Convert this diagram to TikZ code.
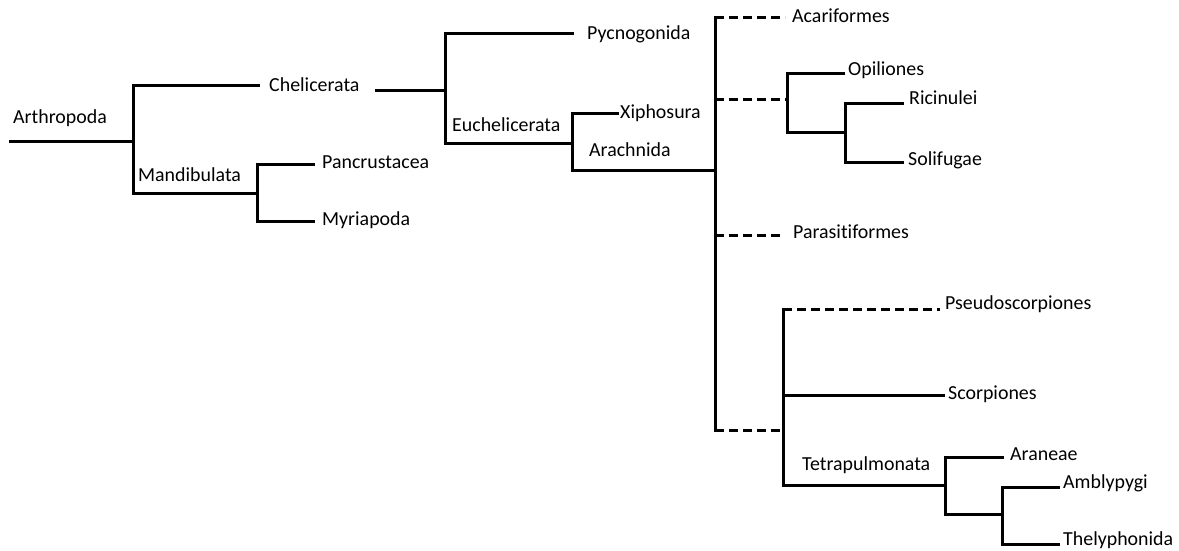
\documentclass[tikz,border=0pt]{standalone}
\usepackage{fontspec}
\setmainfont[Ligatures={NoCommon}]{Carlito}
\begin{document}
\begin{tikzpicture}[x=1pt,y=-1pt,
  br/.style={line width=3pt,line cap=rect},
  dbr/.style={line width=3pt,dash pattern=on 9pt off 5pt},
  lbl/.style={anchor=west,inner sep=0pt,font=\fontsize{19.9}{22}\selectfont,text height=13pt,text depth=4pt}]
\useasboundingbox (0,0) rectangle (1179,550);
% labels
\node[lbl] (arth) at (13,119) {Arthropoda};
\node[lbl] (chel) at (269,87) {Chelicerata};
\node[lbl] (mand) at (138,177) {Mandibulata};
\node[lbl] (panc) at (322,164) {Pancrustacea};
\node[lbl] (myri) at (322,221) {Myriapoda};
\node[lbl] (pycn) at (587,35) {Pycnogonida};
\node[lbl] (euch) at (452,127) {Euchelicerata};
\node[lbl] (xiph) at (620,114) {Xiphosura};
\node[lbl] (arac) at (589,152) {Arachnida};
\node[lbl] (acar) at (792,18) {Acariformes};
\node[lbl] (opil) at (848,71) {Opiliones};
\node[lbl] (rici) at (909,100) {Ricinulei};
\node[lbl] (soli) at (908,161) {Solifugae};
\node[lbl] (para) at (793,234) {Parasitiformes};
\node[lbl] (pseu) at (945,305) {Pseudoscorpiones};
\node[lbl] (scor) at (948,395) {Scorpiones};
\node[lbl] (tetr) at (802,466) {Tetrapulmonata};
\node[lbl] (aran) at (1010,456) {Araneae};
\node[lbl] (ambl) at (1063,484) {Amblypygi};
\node[lbl] (thel) at (1063,541) {Thelyphonida};
% junction coordinates
\coordinate (root) at (10,141);
\coordinate (jA) at (133,141);
\coordinate (chelE) at (258,85);
\coordinate (chelS) at (376,90);
\coordinate (jM) at (257,193);
\coordinate (pancE) at (313,164);
\coordinate (myriE) at (313,221);
\coordinate (jC) at (445,90);
\coordinate (pycnE) at (572,33);
\coordinate (jE) at (572,143);
\coordinate (xiphE) at (617,113);
\coordinate (jR) at (715,170);
\coordinate (acarE) at (785,17);
\coordinate (jO) at (787,99);
\coordinate (opilE) at (843,73);
\coordinate (jRS) at (845,132);
\coordinate (riciE) at (902,103);
\coordinate (soliE) at (902,162);
\coordinate (paraE) at (782,235);
\coordinate (jB) at (715,430);
\coordinate (jP) at (783,430);
\coordinate (pseuE) at (940,309);
\coordinate (scorE) at (943,395);
\coordinate (jT) at (945,485);
\coordinate (aranE) at (1002,457);
\coordinate (jAT) at (1002,514);
\coordinate (amblE) at (1058,487);
\coordinate (thelE) at (1058,544);
% branches
\draw[br] (root) -- (jA);
\draw[br] (chelE) -| (jA |- chelE) -- (jA |- jM) -- (jM);
\draw[br] (pancE) -| (jM) |- (myriE);
\draw[br] (chelS) -- (jC);
\draw[br] (pycnE) -| (jC) |- (jE);
\draw[br] (xiphE) -| (jE) |- (jR);
\draw[br] (jR |- acarE) -- (jB);
\draw[dbr] (jR |- acarE) -- (acarE);
\draw[dbr] (jR |- jO) -- (jO);
\draw[br] (opilE) -| (jO) |- (jRS);
\draw[br] (riciE) -| (jRS) |- (soliE);
\draw[dbr] (jR |- paraE) -- (paraE);
\draw[dbr] (jB) -- (jP);
\draw[br] (jP |- pseuE) -- (jP |- jT) -- (jT);
\draw[dbr] (jP |- pseuE) -- (pseuE);
\draw[br] (jP |- scorE) -- (scorE);
\draw[br] (aranE) -| (jT) |- (jAT);
\draw[br] (amblE) -| (jAT) |- (thelE);
\end{tikzpicture}
\end{document}
